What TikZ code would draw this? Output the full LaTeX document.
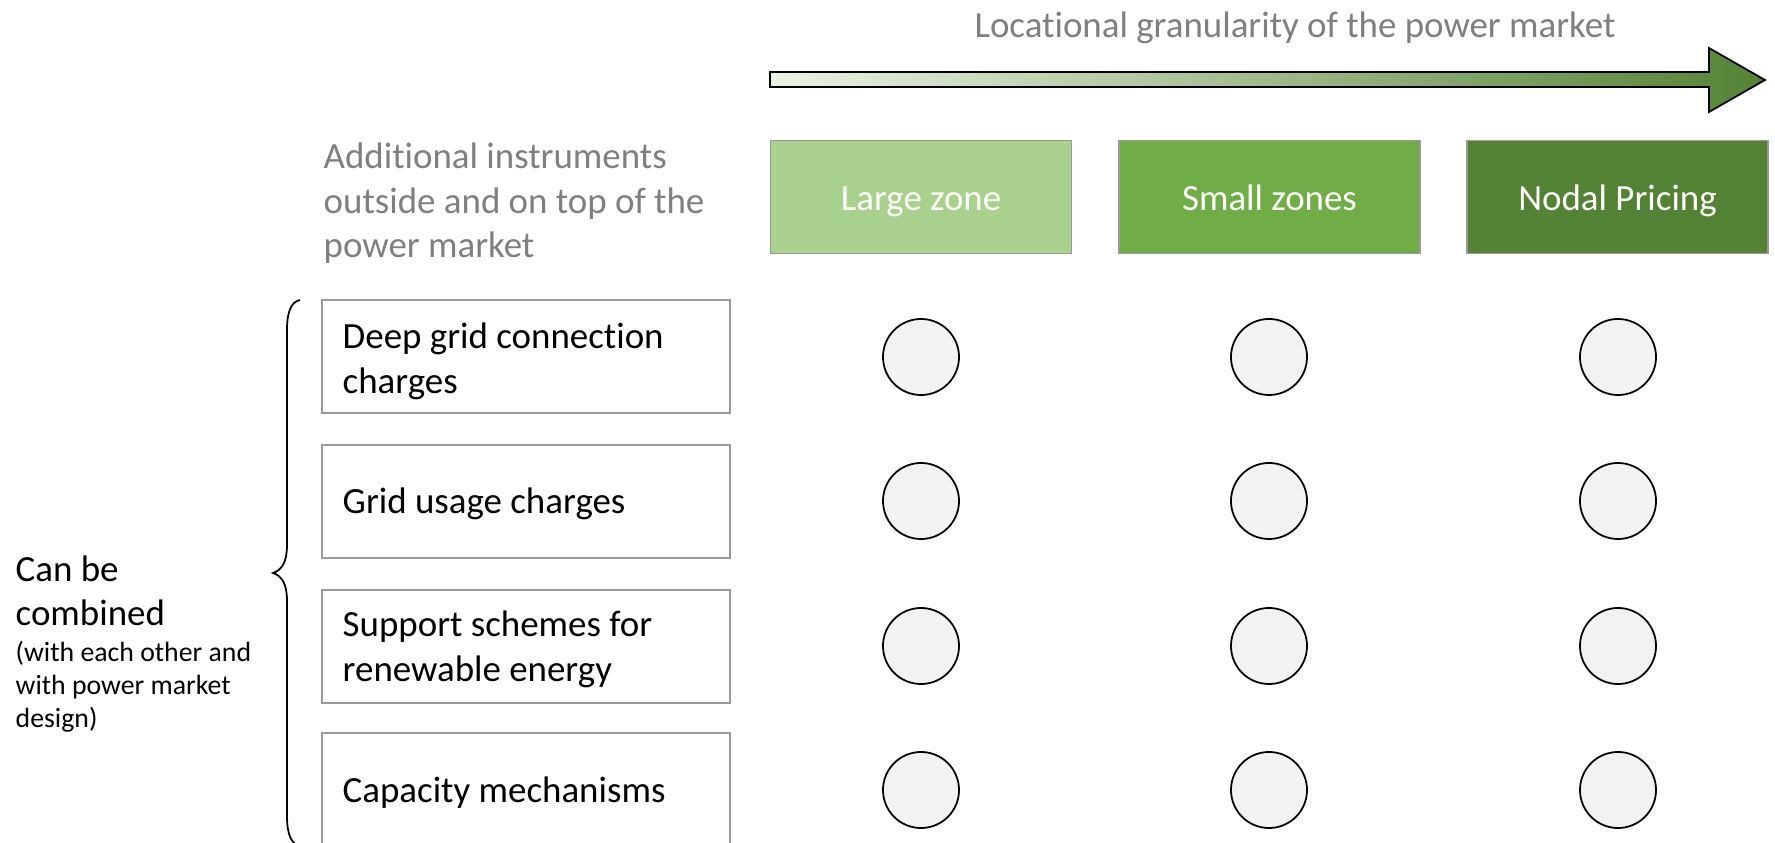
\documentclass[tikz,border=0pt]{standalone}
\usepackage{fontspec}
\setmainfont{Carlito}[RawFeature={-liga;-clig;-calt;-dlig}]
\begin{document}
\definecolor{txtgray}{HTML}{7F7F7F}
\definecolor{boxgray}{HTML}{9A9A9A}
\definecolor{zoneA}{HTML}{A9D18E}
\definecolor{zoneB}{HTML}{70AD47}
\definecolor{zoneC}{HTML}{548235}
\definecolor{arrowlight}{HTML}{EAF3E3}
\definecolor{dotfill}{HTML}{F2F2F2}
\begin{tikzpicture}[x=0.01cm, y=-0.01cm,
  bigtext/.style={font=\fontsize{10.5}{12.7}\selectfont},
  smalltext/.style={font=\fontsize{7.9}{9.4}\selectfont},
  zonebox/.style={draw=boxgray, line width=0.5pt, text=white, bigtext,
    minimum width=3.01cm, minimum height=1.13cm, inner sep=0pt,
    text height=0.94em, text depth=0.2em},
  instbox/.style={draw=boxgray, line width=0.5pt, minimum width=4.08cm, minimum height=1.13cm,
    inner sep=0pt, bigtext},
  insttext/.style={bigtext, align=left, anchor=west, inner sep=0pt},
  dot/.style={circle, draw=black, line width=0.5pt, fill=dotfill, minimum size=0.76cm, inner sep=0pt}
]
\useasboundingbox (0,0) rectangle (1775,843);
\begin{scope}
\clip (0,0) rectangle (1775,843);

% heading and granularity arrow
\node[bigtext, text=txtgray, anchor=base, inner sep=0pt] (title) at (1295,38)
  {Locational granularity of the power market};
\path[draw=black, line width=0.5pt, left color=arrowlight, right color=zoneC]
  (770,72) -- (1709,72) -- (1709,48) -- (1765,80) -- (1709,112) -- (1709,87) -- (770,87) -- cycle;

% market design columns
\node[zonebox, fill=zoneA] (zoneL) at (921,197) {Large zone};
\node[zonebox, fill=zoneB] (zoneS) at (1269.5,197) {Small zones};
\node[zonebox, fill=zoneC] (zoneN) at (1617.5,197) {Nodal Pricing};

% instruments column heading (base anchor = last line)
\node[bigtext, text=txtgray, align=left, anchor=base west, inner sep=0pt] (addl) at (323,258)
  {Additional instruments\\outside and on top of the\\power market};

% instrument boxes
\node[instbox] (inst1) at (526,356.5) {};
\node[instbox] (inst2) at (526,501.5) {};
\node[instbox] (inst3) at (526,646.5) {};
\node[instbox] (inst4) at (526,789.5) {};
\node[insttext] (lab1) at (342,361.5) {Deep grid connection\\charges};
\node[insttext] (lab2) at (342,503.5) {Grid usage charges};
\node[insttext] (lab3) at (342,649.5) {Support schemes for\\renewable energy};
\node[insttext] (lab4) at (342,793) {Capacity mechanisms};

% option circles
\foreach \r/\y in {1/357,2/501,3/646,4/790}{
  \node[dot] (cL\r) at (921,\y) {};
  \node[dot] (cS\r) at (1269,\y) {};
  \node[dot] (cN\r) at (1618,\y) {};
}

% curly brace grouping the instruments
\draw[black, line width=0.5pt]
  (300,300) .. controls (291,302) and (287,312) .. (287,330) -- (287,545)
  .. controls (287,562) and (282,570) .. (273,573)
  .. controls (282,576) and (287,584) .. (287,601) -- (287,816)
  .. controls (287,834) and (291,844) .. (300,846);

% side note (base anchor = last line)
\node[bigtext, align=left, anchor=base west, inner sep=0pt] (combo) at (15,626) {Can be\\combined};
\node[smalltext, align=left, anchor=base west, inner sep=0pt] (combonote) at (15,728)
  {(with each other and\\with power market\\design)};
\end{scope}
\end{tikzpicture}
\end{document}
